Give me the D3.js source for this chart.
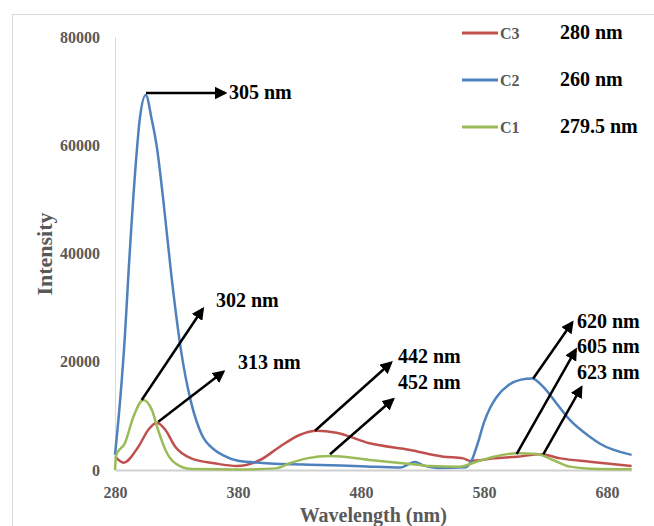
<!DOCTYPE html>
<html>
<head>
<meta charset="utf-8">
<script src="https://cdn.jsdelivr.net/npm/d3@7"></script>
<style>
  body { margin: 0; background: #fff; }
</style>
</head>
<body>
<svg width="654" height="526"></svg>
<script>
// emission spectra
const c3Wavelength = [280, 287, 299, 307, 314, 321, 329, 342, 361, 379, 398, 414, 430, 444, 460, 487, 520, 547, 563, 569, 588, 607, 626, 642, 666, 700];
const c3Intensity  = [2450, 1350, 4300, 7400, 8750, 7400, 4300, 2150, 1240, 740, 1850, 4300, 6470, 7260, 6900, 4930, 3700, 2460, 2150, 1660, 2150, 2460, 2900, 2150, 1530, 740];

const c2Wavelength = [280, 284, 288, 291, 298, 300, 305, 310, 314, 319, 326, 334, 342, 350, 361, 368, 380, 400, 447, 480, 512, 519, 524, 530, 542, 565, 570, 575, 580, 585, 590, 600, 610, 619, 628, 639, 650, 666, 674, 700];
const c2Intensity  = [2800, 12400, 24600, 36500, 59700, 64600, 69300, 64600, 59700, 50400, 35600, 21600, 12400, 6800, 3700, 2700, 1700, 1300, 920, 700, 450, 1100, 1500, 900, 370, 500, 1800, 5000, 8800, 11500, 13400, 15700, 16700, 16900, 15400, 12300, 9200, 6150, 4900, 2800];

const c1Wavelength = [280, 281, 288, 295, 303, 310, 315, 321, 329, 342, 380, 411, 422, 436, 455, 487, 528, 536, 560, 574, 588, 607, 623, 636, 650, 666, 700];
const c1Intensity  = [0, 2800, 4930, 9850, 12930, 11080, 7400, 3700, 1240, 180, 100, 300, 1240, 2150, 2590, 1850, 920, 740, 620, 1530, 2460, 3080, 2950, 1850, 620, 250, 150];

const seriesNames = ["C3", "C2", "C1"];
const excitation = ["280 nm", "260 nm", "279.5 nm"];
const seriesColors = ["#c0504d", "#4f81bd", "#9bbb59"];

const xTicks = [280, 380, 480, 580, 680];
const yTicks = [0, 20000, 40000, 60000, 80000];

// peak labels: where the arrow starts (data), its tip offset and text spot (px)
const peaks = [
  { label: "305 nm", nm: 305.2, val: 69650, dx: 79, dy: 0, tx: 229, ty: 99 },
  { label: "302 nm", nm: 301.7, val: 12930, dx: 61, dy: -91, tx: 216, ty: 307 },
  { label: "313 nm", nm: 315.2, val: 8900, dx: 65, dy: -50, tx: 238, ty: 369 },
  { label: "442 nm", nm: 442.6, val: 7260, dx: 76, dy: -68, tx: 398, ty: 363 },
  { label: "452 nm", nm: 454.8, val: 2900, dx: 63, dy: -55, tx: 398, ty: 389 },
  { label: "620 nm", nm: 620, val: 16900, dx: 39, dy: -56, tx: 577, ty: 328 },
  { label: "605 nm", nm: 606.6, val: 3000, dx: 59, dy: -104, tx: 577, ty: 353 },
  { label: "623 nm", nm: 628.2, val: 2900, dx: 38, dy: -67, tx: 577, ty: 379 }
];

const serif = '"Liberation Serif", "Times New Roman", Times, "DejaVu Serif", serif';

const svg = d3.select("svg");
const x = d3.scaleLinear().domain([280, 700]).range([115, 631.6]);
const y = d3.scaleLinear().domain([0, 80000]).range([470, 37]);

// outer chart frame
svg.append("rect")
  .attr("x", 12.5).attr("y", 14.5)
  .attr("width", 700).attr("height", 600)
  .attr("fill", "none").attr("stroke", "#d9d9d9");

const yAxis = svg.append("g")
  .attr("transform", `translate(${x(280)},0)`)
  .call(d3.axisLeft(y).tickValues(yTicks).tickSize(0).tickPadding(15).tickFormat(d3.format("d")));
yAxis.select(".domain").attr("stroke", "#d9d9d9");

const xAxis = svg.append("g")
  .attr("transform", `translate(0,${y(0)})`)
  .call(d3.axisBottom(x).tickValues(xTicks).tickSize(0).tickPadding(17).tickFormat(d3.format("d")));
xAxis.select(".domain").attr("stroke", "#d0d0d0").attr("stroke-width", 2);

svg.selectAll(".tick text")
  .attr("fill", "#595959")
  .style("font-family", serif)
  .style("font-weight", "bold")
  .style("font-size", "16px");

svg.append("text")
  .attr("x", (x(280) + x(700)) / 2).attr("y", 522)
  .attr("text-anchor", "middle").attr("fill", "#595959")
  .style("font-family", serif).style("font-weight", "bold")
  .style("font-size", "20px")
  .text("Wavelength (nm)");

svg.append("text")
  .attr("transform", "translate(52,254) rotate(-90)")
  .attr("text-anchor", "middle").attr("fill", "#595959")
  .style("font-family", serif).style("font-weight", "bold")
  .style("font-size", "22px")
  .text("Intensity");

// spectra
const series = [
  d3.zip(c3Wavelength, c3Intensity),
  d3.zip(c2Wavelength, c2Intensity),
  d3.zip(c1Wavelength, c1Intensity)
];
const line = d3.line()
  .x(d => x(d[0]))
  .y(d => y(d[1]))
  .curve(d3.curveMonotoneX);

svg.append("g").selectAll("path")
  .data(series)
  .enter().append("path")
  .attr("d", line)
  .attr("fill", "none")
  .attr("stroke", (d, i) => seriesColors[i])
  .attr("stroke-width", 2.5)
  .attr("stroke-linejoin", "round");

// arrows
svg.append("defs").append("marker")
  .attr("id", "head")
  .attr("viewBox", "0 0 10 10")
  .attr("refX", 8).attr("refY", 5)
  .attr("markerWidth", 5).attr("markerHeight", 5)
  .attr("markerUnits", "strokeWidth")
  .attr("orient", "auto")
  .append("path")
  .attr("d", "M0,0L10,5L0,10z")
  .attr("fill", "#000");

const ann = svg.append("g");
peaks.forEach(p => {
  const x0 = x(p.nm), y0 = y(p.val);
  ann.append("line")
    .attr("x1", x0).attr("y1", y0)
    .attr("x2", x0 + p.dx).attr("y2", y0 + p.dy)
    .attr("stroke", "#000").attr("stroke-width", 2.5)
    .attr("marker-end", "url(#head)");
  ann.append("text")
    .attr("x", p.tx).attr("y", p.ty)
    .attr("fill", "#000")
    .style("font-family", serif).style("font-weight", "bold")
    .style("font-size", "20px")
    .text(p.label);
});

// legend
const legend = svg.append("g");
const legendY = [33, 80, 127];
seriesNames.forEach((name, i) => {
  legend.append("line")
    .attr("x1", 462).attr("x2", 498)
    .attr("y1", legendY[i]).attr("y2", legendY[i])
    .attr("stroke", seriesColors[i]).attr("stroke-width", 3);
  legend.append("text")
    .attr("x", 500).attr("y", legendY[i] + 6)
    .attr("fill", "#595959")
    .style("font-family", serif).style("font-weight", "bold")
    .style("font-size", "16px")
    .text(name);
  legend.append("text")
    .attr("x", 560).attr("y", legendY[i] + 6)
    .attr("fill", "#000")
    .style("font-family", serif).style("font-weight", "bold")
    .style("font-size", "20px")
    .text(excitation[i]);
});
</script>
</body>
</html>
